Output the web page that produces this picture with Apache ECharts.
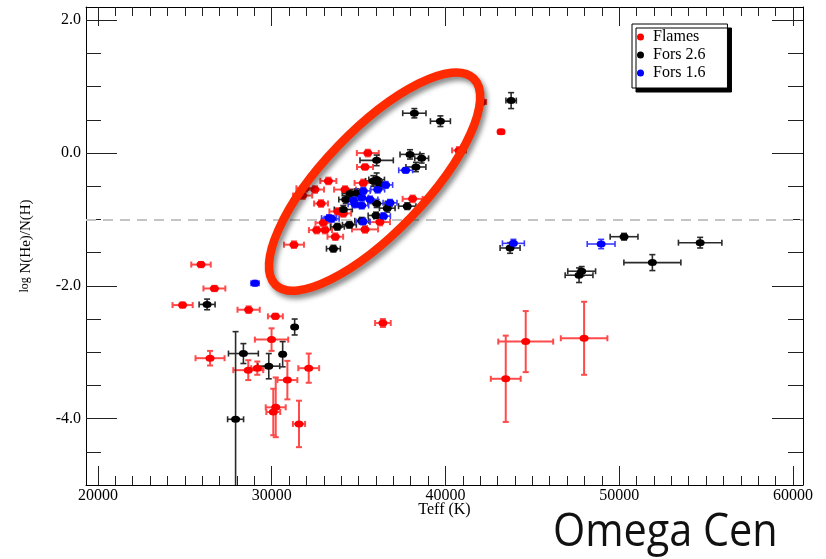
<!DOCTYPE html>
<html>
<head>
<meta charset="utf-8">
<script src="https://cdn.jsdelivr.net/npm/echarts@6/dist/echarts.min.js"></script>
<style>
  html, body { margin: 0; padding: 0; background: #fff; }
  #chart { width: 826px; height: 559px; }
</style>
</head>
<body>
<div id="chart"></div>
<script>
// Helium abundance vs effective temperature, three spectrograph samples.

// FLAMES sample
const flamesTeff     = [42090, 43200, 40780, 35530, 35370, 33260, 34220, 35270, 32490, 31920,
                        31780, 32840, 33820, 34120, 32970, 32590, 33070, 33660, 31280, 35370,
                        36230, 38110, 25930, 26700, 24870, 28670, 30210, 36400, 29990, 26450,
                        28650, 29170, 32130, 30900, 30230, 30090, 31570, 44620, 47980, 43470];
const flamesLogHe    = [0.77, 0.32, 0.04, 0.00, -0.21, -0.42, -0.55, -0.45, -0.55, -0.53,
                        -0.64, -0.76, -0.88, -0.91, -1.05, -1.16, -1.16, -1.26, -1.38, -1.15,
                        -1.04, -0.69, -1.68, -2.04, -2.29, -2.36, -2.46, -2.56, -2.81, -3.09,
                        -3.27, -3.24, -3.24, -3.42, -3.83, -3.90, -4.08, -2.84, -2.79, -3.40];
const flamesTeffErr  = [250, 150, 400, 630, 460, 460, 630, 500, 520, 500,
                        550, 400, 500, 450, 450, 450, 400, 450, 575, 750,
                        575, 575, 560, 630, 580, 640, 430, 450, 960, 835,
                        860, 350, 600, 575, 575, 400, 350, 1580, 1340, 860];
const flamesLogHeErr = [0.04, 0.03, 0.05, 0.05, 0.04, 0.05, 0.05, 0.05, 0.05, 0.05,
                        0.05, 0.05, 0.05, 0.05, 0.05, 0.05, 0.05, 0.05, 0.05, 0.05,
                        0.05, 0.05, 0.04, 0.04, 0.04, 0.05, 0.04, 0.06, 0.17, 0.11,
                        0.15, 0.10, 0.22, 0.29, 0.45, 0.35, 0.35, 0.46, 0.55, 0.65];

// FORS 2.6 sample
const fors26Teff     = [43780, 38210, 39710, 37960, 38630, 38300, 36040, 35850, 36040, 36230,
                        34510, 34890, 34260, 36040, 36650, 37800, 34120, 36000, 35180, 34470,
                        33780, 33550, 26280, 31320, 28370, 30630, 29830, 27920, 43720, 50280,
                        54660, 51910, 47840, 47690];
const fors26LogHe    = [0.79, 0.60, 0.48, -0.02, -0.08, -0.21, -0.11, -0.42, -0.40, -0.47,
                        -0.61, -0.60, -0.70, -0.76, -0.83, -0.80, -0.85, -0.94, -1.02, -1.08,
                        -1.11, -1.44, -2.28, -2.62, -3.02, -3.03, -3.21, -4.01, -1.43, -1.26,
                        -1.35, -1.65, -1.78, -1.84];
const fors26TeffErr  = [300, 670, 575, 575, 400, 575, 960, 450, 450, 400,
                        450, 450, 400, 500, 450, 500, 520, 450, 400, 400,
                        400, 400, 460, 100, 860, 120, 630, 460, 575, 800,
                        1250, 1640, 800, 800];
const fors26LogHeErr = [0.12, 0.07, 0.08, 0.07, 0.07, 0.07, 0.08, 0.08, 0.10, 0.06,
                        0.06, 0.06, 0.06, 0.06, 0.06, 0.05, 0.06, 0.05, 0.05, 0.05,
                        0.05, 0.05, 0.08, 0.12, 0.15, 0.19, 0.19, 1.32, 0.08, 0.05,
                        0.08, 0.12, 0.07, 0.11];

// FORS 1.6 sample
const fors16Teff     = [37710, 36560, 36100, 35270, 34700, 35180, 35660, 34800, 35180, 36810,
                        33300, 33450, 36430, 35260, 29040, 43910, 48960];
const fors16LogHe    = [-0.26, -0.48, -0.55, -0.57, -0.71, -0.67, -0.70, -0.77, -0.79, -0.75,
                        -0.98, -0.99, -0.95, -1.03, -1.96, -1.36, -1.37];
const fors16TeffErr  = [400, 400, 400, 400, 450, 400, 450, 400, 400, 400,
                        430, 430, 400, 400, 230, 630, 800];
const fors16LogHeErr = [0.04, 0.05, 0.05, 0.05, 0.05, 0.05, 0.05, 0.05, 0.05, 0.05,
                        0.05, 0.05, 0.05, 0.05, 0.04, 0.06, 0.07];

// Axis ranges and tick values
const teffMin = 19310, teffMax = 60580;
const logHeMin = -5.0, logHeMax = 2.2;
const teffMajorTicks = [20000, 30000, 40000, 50000, 60000];
const logHeMajorTicks = [-4, -2, 0, 2];
const refLogHe = -1.0;          // dashed reference level

// Highlighted group (ellipse centre in data units, size in px, tilt in degrees)
const ringTeff = 35920, ringLogHe = -0.43;
const ringRx = 143, ringRy = 51, ringTilt = 46.2;

const teffMinorTicks = [];
for (let t = 20000; t <= 60000; t += 1000) teffMinorTicks.push(t);
const logHeMinorTicks = [];
for (let v = -4.5; v <= 2.0; v += 0.5) logHeMinorTicks.push(v);

const serif = 'Liberation Serif';

function scatter(name, teff, logHe, color) {
  return {
    name, type: 'scatter', xAxisIndex: 0, yAxisIndex: 0,
    data: teff.map((t, i) => [t, logHe[i]]),
    symbol: 'circle', symbolSize: [9, 7],
    itemStyle: { color, opacity: 1 },
    z: 5, silent: true
  };
}

function errorBars(teff, logHe, teffErr, logHeErr, color, width) {
  return {
    type: 'custom', xAxisIndex: 0, yAxisIndex: 0, clip: true, silent: true, z: 3,
    data: teff.map((t, i) => [t, logHe[i], teffErr[i], logHeErr[i]]),
    encode: { x: 0, y: 1 },
    renderItem(params, api) {
      const x = api.value(0), y = api.value(1), ex = api.value(2), ey = api.value(3);
      const l = api.coord([x - ex, y]), r = api.coord([x + ex, y]);
      const t = api.coord([x, y + ey]), b = api.coord([x, y - ey]);
      const cap = 3;
      const st = () => ({ stroke: color, lineWidth: width, fill: null });
      const seg = (x1, y1, x2, y2) => ({ type: 'line', shape: { x1, y1, x2, y2 }, style: st() });
      return {
        type: 'group',
        children: [
          seg(l[0], l[1], r[0], r[1]),
          seg(l[0], l[1] - cap, l[0], l[1] + cap),
          seg(r[0], r[1] - cap, r[0], r[1] + cap),
          seg(t[0], t[1], b[0], b[1]),
          seg(t[0] - cap, t[1], t[0] + cap, t[1]),
          seg(b[0] - cap, b[1], b[0] + cap, b[1])
        ]
      };
    }
  };
}

function xAxisDef(position, ticks, len, withLine, withLabel) {
  return {
    type: 'value', position, min: teffMin, max: teffMax,
    axisLine: { show: withLine, onZero: false, lineStyle: { color: '#000', width: 1 } },
    axisTick: { show: true, inside: true, length: len, customValues: ticks,
                lineStyle: { color: '#222', width: 1 } },
    axisLabel: withLabel
      ? { show: true, customValues: ticks, formatter: v => String(v), margin: 3,
          fontFamily: serif, fontSize: 16, color: '#000' }
      : { show: false },
    splitLine: { show: false }
  };
}

function yAxisDef(position, ticks, len, withLine, withLabel) {
  return {
    type: 'value', position, min: logHeMin, max: logHeMax,
    axisLine: { show: withLine, onZero: false, lineStyle: { color: '#000', width: 1 } },
    axisTick: { show: true, inside: true, length: len, customValues: ticks,
                lineStyle: { color: '#222', width: 1 } },
    axisLabel: withLabel
      ? { show: true, customValues: ticks, formatter: v => v.toFixed(1), margin: 5,
          fontFamily: serif, fontSize: 16, color: '#000' }
      : { show: false },
    splitLine: { show: false }
  };
}

const xMain = xAxisDef('bottom', teffMajorTicks, 19, true, true);
xMain.name = 'Teff (K)';
xMain.nameLocation = 'middle';
xMain.nameGap = 17;
xMain.nameMoveOverlap = false;
xMain.nameTextStyle = { fontFamily: serif, fontSize: 16, color: '#000' };

const yMain = yAxisDef('left', logHeMajorTicks, 31, true, true);
yMain.name = '{s|log} N(He)/N(H)';
yMain.nameLocation = 'middle';
yMain.nameRotate = 90;
yMain.nameGap = 52;
yMain.nameMoveOverlap = false;
yMain.nameTextStyle = {
  fontFamily: serif, fontSize: 15, color: '#000',
  rich: { s: { fontFamily: serif, fontSize: 12, color: '#000', verticalAlign: 'top' } }
};

const chart = echarts.init(document.getElementById('chart'), null, { renderer: 'canvas' });

const flamesDots = scatter('Flames', flamesTeff, flamesLogHe, '#ff0000');
flamesDots.markLine = {
  silent: true, symbol: 'none', label: { show: false },
  lineStyle: { type: [10, 7], color: '#c4c4c4', width: 2 },
  data: [{ yAxis: refLogHe }]
};

chart.setOption({
  animation: false,
  backgroundColor: '#fff',
  grid: { left: 86, right: 23, top: 7, bottom: 74, containLabel: false },
  xAxis: [
    xMain,
    xAxisDef('bottom', teffMinorTicks, 9, false, false),
    xAxisDef('top', teffMajorTicks, 19, true, false),
    xAxisDef('top', teffMinorTicks, 9, false, false)
  ],
  yAxis: [
    yMain,
    yAxisDef('left', logHeMinorTicks, 15, false, false),
    yAxisDef('right', logHeMajorTicks, 31, true, false),
    yAxisDef('right', logHeMinorTicks, 15, false, false)
  ],
  legend: {
    data: ['Flames', 'Fors 2.6', 'Fors 1.6'],
    selectedMode: false,
    orient: 'vertical', left: 632, top: 24,
    icon: 'circle', itemWidth: 7, itemHeight: 7, itemGap: 2,
    padding: [5, 22, 7, 5],
    backgroundColor: '#fff', borderColor: '#000', borderWidth: 1,
    shadowColor: '#000', shadowBlur: 0, shadowOffsetX: 4, shadowOffsetY: 4,
    textStyle: { fontFamily: serif, fontSize: 16, color: '#000', padding: [0, 0, 0, 4] }
  },
  series: [
    errorBars(flamesTeff, flamesLogHe, flamesTeffErr, flamesLogHeErr, '#ff4a4a', 2),
    errorBars(fors26Teff, fors26LogHe, fors26TeffErr, fors26LogHeErr, '#2a2a2a', 1.6),
    errorBars(fors16Teff, fors16LogHe, fors16TeffErr, fors16LogHeErr, '#3a3aff', 1.6),
    flamesDots,
    scatter('Fors 2.6', fors26Teff, fors26LogHe, '#000000'),
    scatter('Fors 1.6', fors16Teff, fors16LogHe, '#0000ff')
  ]
});

// Ring around the hot, helium-rich group, plus the cluster caption
const c = chart.convertToPixel({ xAxisIndex: 0, yAxisIndex: 0 }, [ringTeff, ringLogHe]);
chart.setOption({
  graphic: [
    {
      type: 'ellipse', x: c[0], y: c[1], rotation: ringTilt * Math.PI / 180,
      shape: { cx: 0, cy: 0, rx: ringRx, ry: ringRy },
      style: { fill: 'none', stroke: '#ff2a00', lineWidth: 8.5,
               shadowBlur: 5, shadowColor: 'rgba(0,0,0,0.45)', shadowOffsetX: 3, shadowOffsetY: 4 },
      z: 100, silent: true
    },
    {
      type: 'text', left: 553, top: 510, scaleX: 0.9,
      style: { text: 'Omega Cen', fontFamily: 'Open Sans', fontSize: 46, fill: '#111' },
      z: 100, silent: true
    }
  ]
});
</script>
</body>
</html>
